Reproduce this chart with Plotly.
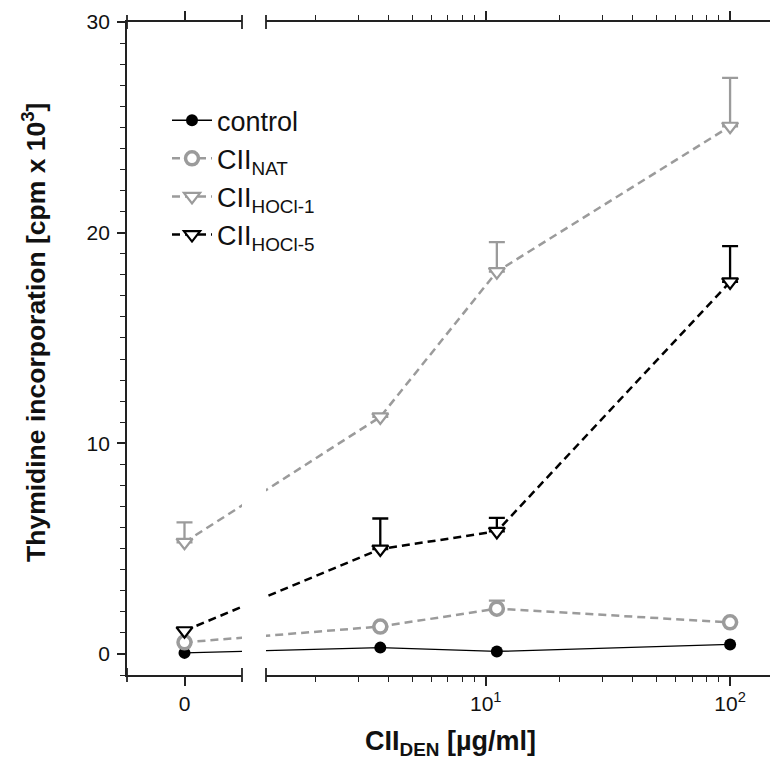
import math
import plotly.graph_objects as go

# ---------------- data ----------------
conc = [3.7, 11.1, 100]          # CII_DEN concentration (µg/ml), log part
zero_x = 0                        # the "0" concentration point

series_names = ["control", "CII<sub>NAT</sub>", "CII<sub>HOCl-1</sub>", "CII<sub>HOCl-5</sub>"]
control_y0 = 0.05
control_y = [0.3, 0.12, 0.45]
control_e0 = 0.0
control_e = [0.0, 0.0, 0.0]

nat_y0 = 0.55
nat_y = [1.3, 2.15, 1.5]
nat_e0 = 0.0
nat_e = [0.0, 0.38, 0.0]

hocl1_y0 = 5.3
hocl1_y = [11.25, 18.15, 25.05]
hocl1_e0 = 0.95
hocl1_e = [0.0, 1.4, 2.3]

hocl5_y0 = 1.1
hocl5_y = [4.98, 5.82, 17.66]
hocl5_e0 = 0.0
hocl5_e = [1.45, 0.64, 1.7]

y_ticks = [0, 10, 20, 30]
x_log_ticks = [10, 100]
x_log_ticktext = ["10<sup>1</sup>", "10<sup>2</sup>"]
x_log_minor = [2, 3, 4, 5, 6, 7, 8, 9, 20, 30, 40, 50, 60, 70, 80, 90]

# ---------------- styling / geometry ----------------
GRAY = "#9b9b9b"
BLACK = "#000000"
AXC = "#222222"
TXT = "#111111"
FONT = "Liberation Sans, Arial, sans-serif"

OFF = 8                      # page body margin
W, H = 778 - OFF, 760 - OFF  # figure size so the page fits the window
# target page positions
P_LEFT, P_RIGHT, P_TOP, P_BOT = 127, 778, 21.7, 675.4
ML = P_LEFT - OFF
MR = (W + OFF) - P_RIGHT
MT = P_TOP - OFF
MB = (H + OFF) - P_BOT
PW = W - ML - MR
PH = H - MT - MB

lin_range = [-1, 1]
d1 = (242 - P_LEFT) / PW
d2 = (266 - P_LEFT) / PW
L0 = math.log10(1.26)
L1 = L0 + (P_RIGHT - 266) / 244.3
log_range = [L0, L1]


def log_to_paper(v):
    return d2 + (math.log10(v) - L0) / (L1 - L0) * (1 - d2)


def paper_to_lin(p):
    return lin_range[0] + p / d1 * (lin_range[1] - lin_range[0])


def lin_to_paper(v):
    return (v - lin_range[0]) / (lin_range[1] - lin_range[0]) * d1


def paper_to_log(p):
    return 10 ** (L0 + (p - d2) / (1 - d2) * (L1 - L0))


def px_x(px):
    return (px - P_LEFT) / PW


def px_y(py):
    return (P_BOT - py) / PH


styles = [
    dict(name=series_names[0], y0=control_y0, y=control_y, e0=control_e0, e=control_e,
         color=BLACK, width=1.3, dash="solid",
         marker=dict(symbol="circle", size=12, color=BLACK, line=dict(color=BLACK, width=0))),
    dict(name=series_names[1], y0=nat_y0, y=nat_y, e0=nat_e0, e=nat_e,
         color=GRAY, width=2.5, dash="8px,5px",
         marker=dict(symbol="circle", size=13, color="white", line=dict(color=GRAY, width=3.5))),
    dict(name=series_names[2], y0=hocl1_y0, y=hocl1_y, e0=hocl1_e0, e=hocl1_e,
         color=GRAY, width=2.5, dash="8px,5px",
         marker=dict(symbol="triangle-down", size=14, color="white", line=dict(color=GRAY, width=2.2))),
    dict(name=series_names[3], y0=hocl5_y0, y=hocl5_y, e0=hocl5_e0, e=hocl5_e,
         color=BLACK, width=2.5, dash="8px,5px",
         marker=dict(symbol="triangle-down", size=14, color="white", line=dict(color=BLACK, width=2.2))),
]

fig = go.Figure()

# connecting lines (clipped by the axis break)
for s in styles:
    x_virtual_lin = paper_to_lin(log_to_paper(conc[0]))
    x_virtual_log = paper_to_log(lin_to_paper(zero_x))
    line = dict(color=s["color"], width=s["width"], dash=s["dash"])
    fig.add_trace(go.Scatter(x=[zero_x, x_virtual_lin], y=[s["y0"], s["y"][0]], mode="lines",
                             line=line, xaxis="x", yaxis="y", showlegend=False, hoverinfo="skip"))
    fig.add_trace(go.Scatter(x=[x_virtual_log] + conc, y=[s["y0"]] + s["y"], mode="lines",
                             line=line, xaxis="x2", yaxis="y", showlegend=False, hoverinfo="skip"))

# markers + error bars (upper only)
for s in styles:
    err0 = dict(type="data", symmetric=False, array=[s["e0"]], arrayminus=[0],
                color=s["color"], thickness=2.3, width=8, visible=s["e0"] > 0)
    fig.add_trace(go.Scatter(x=[zero_x], y=[s["y0"]], mode="markers", marker=s["marker"],
                             error_y=err0, xaxis="x", yaxis="y", showlegend=False))
    errs = [v if v > 0 else None for v in s["e"]]
    err = dict(type="data", symmetric=False, array=errs, arrayminus=[0] * len(errs),
               color=s["color"], thickness=2.3, width=8, visible=any(v > 0 for v in s["e"]))
    fig.add_trace(go.Scatter(x=conc, y=s["y"], mode="markers", marker=s["marker"],
                             error_y=err, xaxis="x2", yaxis="y", showlegend=False))

# legend entries
for i, s in enumerate(styles):
    fig.add_trace(go.Scatter(x=[None], y=[None], mode="lines+markers", name=s["name"],
                             line=dict(color=s["color"], width=s["width"], dash=s["dash"]),
                             marker=s["marker"], xaxis="x2", yaxis="y", legendgroup=f"g{i}"))

axis_common = dict(showline=True, linecolor=AXC, linewidth=1.8,
                   ticks="outside", tickcolor=AXC, tickwidth=1.5, showgrid=False, zeroline=False,
                   tickfont=dict(family=FONT, size=21, color=TXT))
minor_log = dict(tickmode="array", tickvals=x_log_minor, ticklen=5, ticks="outside",
                 tickcolor=AXC, tickwidth=1.3)

fig.update_layout(
    width=W, height=H,
    margin=dict(l=ML, r=MR, t=MT, b=MB, pad=0),
    paper_bgcolor="white", plot_bgcolor="white",
    font=dict(family=FONT, color=TXT),
    xaxis=dict(domain=[0, d1], range=lin_range, tickmode="array", tickvals=[zero_x], ticktext=["0"],
               ticklen=9, anchor="y", **axis_common),
    xaxis2=dict(domain=[d2, 1], type="log", range=log_range, tickmode="array",
                tickvals=x_log_ticks, ticktext=x_log_ticktext, ticklen=9, anchor="y",
                minor=minor_log, **axis_common),
    # top (mirrored) axes
    xaxis3=dict(domain=[0, d1], range=lin_range, tickmode="array", tickvals=[zero_x],
                showticklabels=False, ticklen=9, anchor="y", side="top", overlaying="x",
                **axis_common),
    xaxis4=dict(domain=[d2, 1], type="log", range=log_range, tickmode="array",
                tickvals=x_log_ticks, showticklabels=False, ticklen=9, anchor="y", side="top",
                overlaying="x2", minor=minor_log, **axis_common),
    yaxis=dict(range=[-1, 30], tickmode="array", tickvals=y_ticks, ticklen=8,
               showline=True, linecolor=AXC, linewidth=1.8, ticks="outside", tickcolor=AXC,
               tickwidth=1.5, showgrid=False, zeroline=False, ticklabelstandoff=3,
               tickfont=dict(family=FONT, size=21, color=TXT),
               minor=dict(dtick=1, ticklen=5, ticks="outside", tickcolor=AXC, tickwidth=1.2)),
    legend=dict(x=px_x(167), y=px_y(96), xanchor="left", yanchor="top",
                font=dict(family=FONT, size=27, color=TXT), bgcolor="rgba(0,0,0,0)",
                tracegroupgap=0, itemsizing="trace", itemwidth=40),
    showlegend=True,
)

# dummy traces so the top axes are drawn
fig.add_trace(go.Scatter(x=[None], y=[None], xaxis="x3", yaxis="y", showlegend=False, hoverinfo="skip"))
fig.add_trace(go.Scatter(x=[None], y=[None], xaxis="x4", yaxis="y", showlegend=False, hoverinfo="skip"))

# break caps at the segment ends (top and bottom)
for xref, xpos in [("x domain", 0), ("x domain", 1), ("x2 domain", 0)]:
    for yanc in (0, 1):
        fig.add_shape(type="line", xref=xref, x0=xpos, x1=xpos, yref="paper",
                      ysizemode="pixel", yanchor=yanc, y0=-7, y1=7,
                      line=dict(color=AXC, width=1.8))

# titles
fig.add_annotation(text="<b>CII<sub>DEN</sub> [µg/ml]</b>", xref="paper", yref="paper",
                   x=px_x(450), y=px_y(743), xanchor="center", yanchor="middle",
                   showarrow=False, font=dict(family=FONT, size=27, color=TXT))
fig.add_annotation(text="<b>Thymidine incorporation [cpm x 10<sup>3</sup>]</b>", xref="paper", yref="paper",
                   x=px_x(34), y=px_y(333), xanchor="center", yanchor="middle",
                   textangle=-90, showarrow=False, font=dict(family=FONT, size=26.5, color=TXT))

fig.write_html("out.html")
